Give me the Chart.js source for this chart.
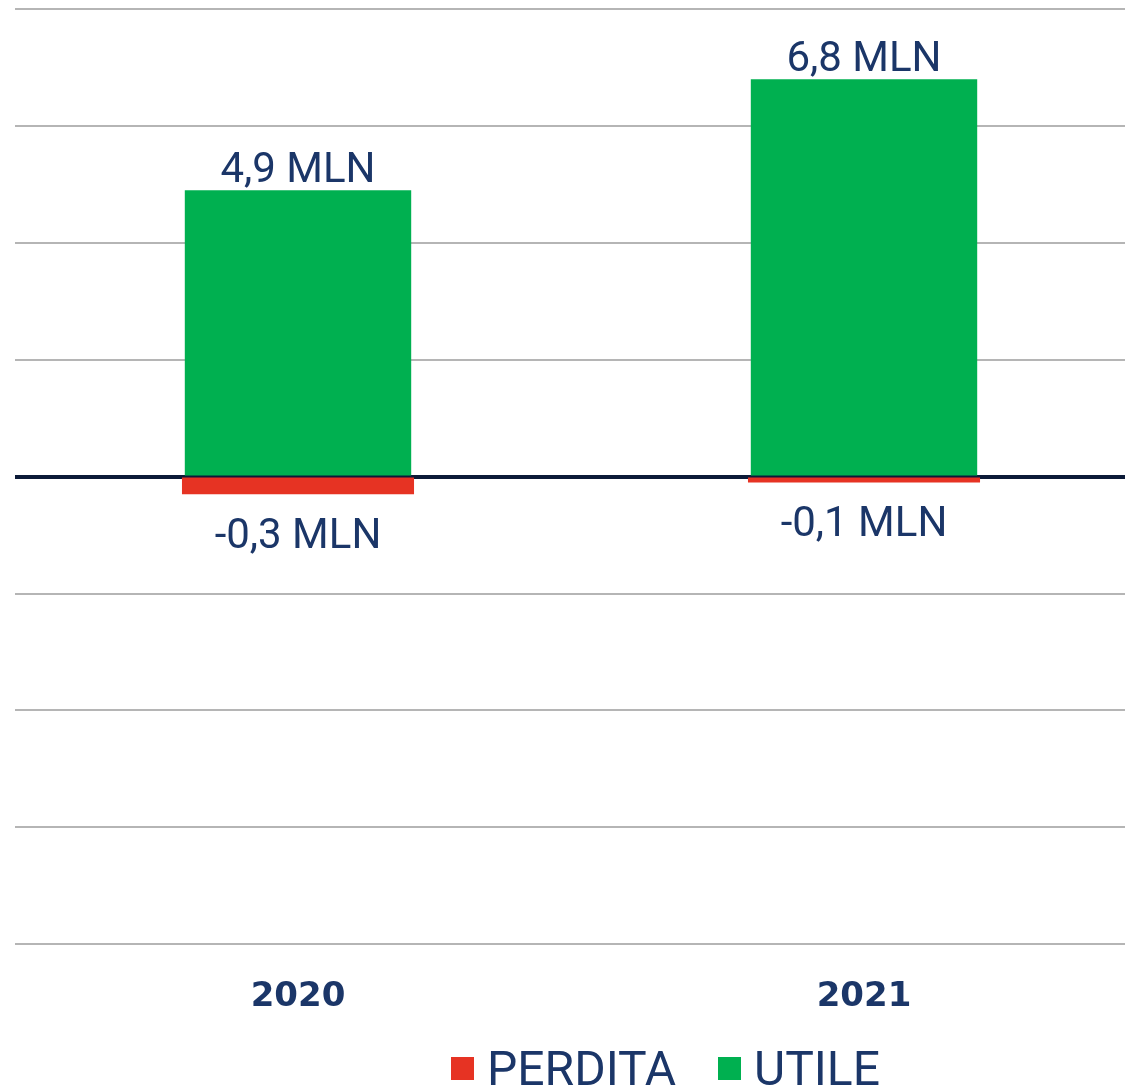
<!DOCTYPE html>
<html>
<head>
<meta charset="utf-8">
<script src="https://cdn.jsdelivr.net/npm/chart.js@4.4.1/dist/chart.umd.min.js"></script>
<style>
  html, body { margin: 0; padding: 0; background: #ffffff; overflow: hidden; }
  #wrap { position: relative; width: 1125px; height: 1090px; overflow: hidden; }
  #c { position: absolute; left: 0; top: 0; }
  .lg { position: absolute; font-family: Roboto, "Liberation Sans", sans-serif; font-size: 48px; line-height: 48px; color: #1b3668; white-space: nowrap; }
  .sw { position: absolute; width: 23px; height: 23px; }
</style>
</head>
<body>
<div id="wrap">
  <canvas id="c" width="1160" height="1090"></canvas>
  <div id="legend"></div>
</div>
<script>
// ---- data ----
const categories = ["2020", "2021"];
const seriesNames = ["PERDITA", "UTILE"];
const perditaValues = [-0.3, -0.1];
const utileValues = [4.9, 6.8];
const yTicks = [-8, -6, -4, -2, 0, 2, 4, 6, 8];

// ---- styles ----
const RED = "#E63323";
const GREEN = "#00B050";
const NAVY = "#1b3668";
const ZERO = "#0c1a38";
const GRID = "#b5b5b5";

function fmt(v) { return v.toFixed(1).replace(".", ",") + " MLN"; }

const valueLabelPlugin = {
  id: "valueLabels",
  afterDatasetsDraw(chart) {
    const ctx = chart.ctx;
    ctx.save();
    ctx.font = "42px Roboto, 'Liberation Sans', sans-serif";
    ctx.fillStyle = NAVY;
    ctx.textAlign = "center";
    ctx.textBaseline = "alphabetic";
    chart.data.datasets.forEach((ds, di) => {
      const meta = chart.getDatasetMeta(di);
      meta.data.forEach((el, i) => {
        const v = ds.data[i];
        const txt = fmt(v);
        if (v >= 0) {
          ctx.fillText(txt, el.x, el.y - 8);
        } else {
          ctx.fillText(txt, el.x, el.y + 54);
        }
      });
    });
    ctx.restore();
  }
};

const chart = new Chart(document.getElementById("c"), {
  type: "bar",
  data: {
    labels: categories,
    datasets: [
      { label: seriesNames[0], data: perditaValues, backgroundColor: RED, barPercentage: 0.41, categoryPercentage: 1.0, yAxisID: "y" },
      { label: seriesNames[1], data: utileValues, backgroundColor: GREEN, barPercentage: 0.40, categoryPercentage: 1.0, yAxisID: "y" }
    ]
  },
  options: {
    responsive: false,
    animation: false,
    devicePixelRatio: 1,
    layout: { padding: { left: 15, right: 13, top: 9, bottom: 39 } },
    plugins: { legend: { display: false }, tooltip: { enabled: false } },
    scales: {
      x: {
        stacked: true,
        grid: { display: false, drawTicks: false },
        border: { display: false },
        ticks: { color: NAVY, font: { family: "'DejaVu Sans'", size: 34, weight: "bold" }, padding: 33 }
      },
      y: {
        stacked: true,
        min: -8, max: 8,
        afterBuildTicks(scale) { scale.ticks = yTicks.map(v => ({ value: v })); },
        ticks: { display: false },
        grid: { color: GRID, lineWidth: 2, drawTicks: false },
        border: { display: false }
      },
      y0: {
        position: "left",
        min: -8, max: 8,
        afterBuildTicks(scale) { scale.ticks = yTicks.map(v => ({ value: v })); },
        ticks: { display: false },
        grid: {
          drawTicks: false,
          color: (c) => (c.tick && c.tick.value === 0) ? ZERO : "rgba(0,0,0,0)",
          lineWidth: (c) => (c.tick && c.tick.value === 0) ? 4 : 0
        },
        border: { display: false },
        z: 1
      }
    }
  },
  plugins: [valueLabelPlugin]
});

// ---- legend (HTML) ----
const legendEl = document.getElementById("legend");
const colors = [RED, GREEN];
const legendX = [451, 718];
seriesNames.forEach((name, i) => {
  const sw = document.createElement("div");
  sw.className = "sw";
  sw.style.left = legendX[i] + "px";
  sw.style.top = "1057px";
  sw.style.background = colors[i];
  legendEl.appendChild(sw);
  const t = document.createElement("div");
  t.className = "lg";
  t.style.left = (legendX[i] + 36) + "px";
  t.style.top = "1045px";
  t.textContent = name;
  legendEl.appendChild(t);
});
</script>
</body>
</html>
